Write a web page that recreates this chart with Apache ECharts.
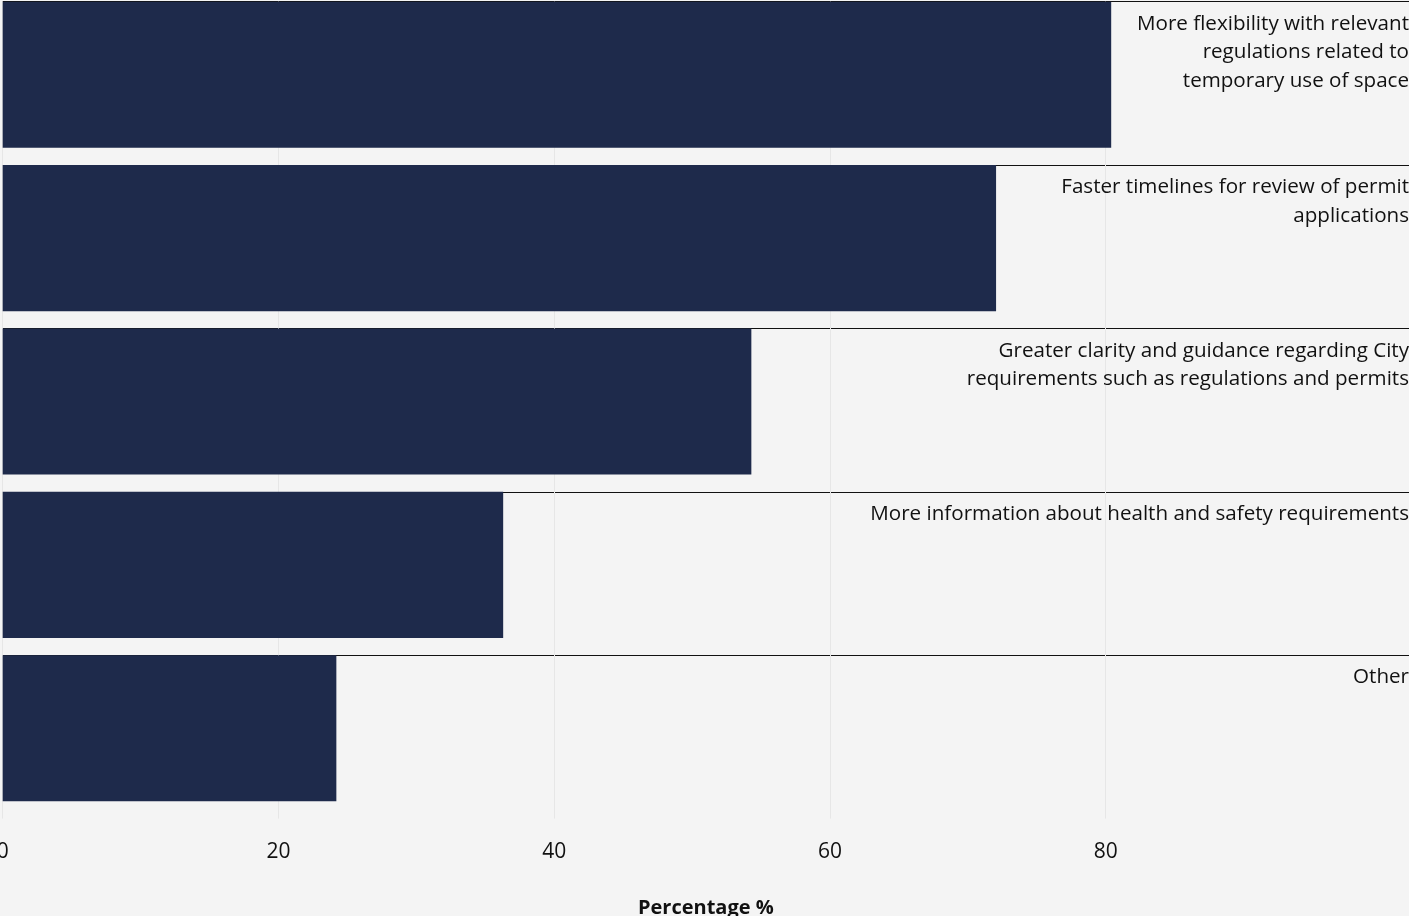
<!DOCTYPE html>
<html lang="en">

<head>
    <meta charset="UTF-8">
    <title>Document</title>
    <style>
        html, body { margin: 0; padding: 0; background: #f4f4f4; }
    </style>
</head>

<body>
    <div id="main" style="width: 1409px; height:916px"></div>
    <script src="https://cdn.jsdelivr.net/npm/echarts@6/dist/echarts.min.js"></script>
    <script type="text/javascript">
        var categories = [
            'More flexibility with relevant\nregulations related to\ntemporary use of space',
            'Faster timelines for review of permit\napplications',
            'Greater clarity and guidance regarding City\nrequirements such as regulations and permits',
            'More information about health and safety requirements',
            'Other'
        ];
        var percentages = [80.4, 72.05, 54.3, 36.3, 24.2];
        var tickLabels = [0, 20, 40, 60, 80];
        var axisMax = 102;

        // full width track bars, only used to hold the category text
        var track = categories.map(function () { return axisMax; });

        var myChart = echarts.init(document.getElementById('main'));
        var font = '"Open Sans"';
        var gridColors = ['#e6e6e6', '#e6e6e6', '#e6e6e6', '#e6e6e6', '#e6e6e6', 'rgba(0,0,0,0)', 'rgba(0,0,0,0)'];

        option = {
            backgroundColor: '#f4f4f4',
            animation: false,
            grid: {
                left: 2.7,
                right: 0,
                top: 1.7,
                bottom: 97.4,
                containLabel: false,
                outerBoundsMode: 'none'
            },
            xAxis: {
                type: 'value',
                min: 0,
                max: axisMax,
                interval: 20,
                axisLine: { show: false },
                axisTick: {
                    show: true,
                    length: 7,
                    lineStyle: { color: gridColors }
                },
                splitLine: {
                    show: true,
                    lineStyle: { color: gridColors }
                },
                axisLabel: {
                    margin: 23,
                    fontFamily: font,
                    fontSize: 21,
                    color: '#111',
                    showMaxLabel: false,
                    formatter: function (v) {
                        return tickLabels.indexOf(v) >= 0 ? String(v) : '';
                    }
                },
                name: 'Percentage %',
                nameLocation: 'middle',
                nameGap: 80,
                nameTextStyle: {
                    fontFamily: font,
                    fontSize: 20,
                    fontWeight: 'bold',
                    color: '#111'
                }
            },
            yAxis: {
                type: 'category',
                inverse: true,
                data: categories,
                axisLine: { show: false },
                axisTick: { show: false },
                axisLabel: { show: false },
                splitLine: {
                    show: true,
                    lineStyle: {
                        width: 1.2,
                        color: ['#111', '#111', '#111', '#111', '#111', 'rgba(0,0,0,0)']
                    }
                }
            },
            series: [{
                name: 'Percentage',
                type: 'bar',
                data: percentages,
                barWidth: '89.4%',
                barGap: '-100%',
                itemStyle: { color: '#1e2a4b' },
                z: 2
            }, {
                name: 'label',
                type: 'bar',
                data: track,
                barWidth: '100%',
                itemStyle: { color: 'rgba(0,0,0,0)' },
                silent: true,
                z: 3,
                label: {
                    show: true,
                    position: 'insideTopRight',
                    distance: 0,
                    padding: [8, 0, 0, 0],
                    formatter: '{b}',
                    align: 'right',
                    fontFamily: font,
                    fontSize: 20.6,
                    lineHeight: 28.5,
                    color: '#111'
                }
            }]
        };
        myChart.setOption(option);
    </script>

</body>

</html>
